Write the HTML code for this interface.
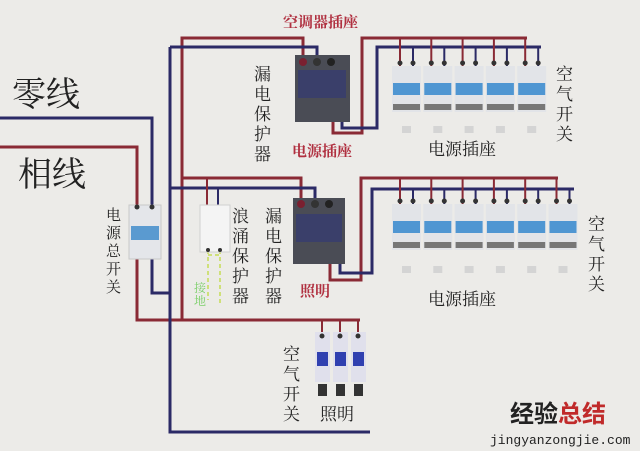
<!DOCTYPE html>
<html><head><meta charset="utf-8"><style>
html,body{margin:0;padding:0;background:#ecebe8;}
svg{display:block}
text{font-family:"Liberation Serif","Noto Serif CJK SC",serif;}
</style></head><body>
<svg id="s" width="640" height="451" viewBox="0 0 640 451" xmlns="http://www.w3.org/2000/svg">
<rect width="640" height="451" fill="#ecebe8"/>
<g fill="none" stroke-width="3" stroke-linejoin="miter">
<polyline points="0,118 152,118 152,207" stroke="#2b2a66"/>
<polyline points="0,147 137,147 137,207" stroke="#8a2a35"/>
<polyline points="137,258 137,320 360,320" stroke="#8a2a35"/>
<polyline points="152,258 152,293 170,293" stroke="#2b2a66"/>
<polyline points="170,47 170,432 370,432" stroke="#2b2a66"/>
<polyline points="182,320 182,38 303,38 303,58" stroke="#8a2a35"/>
<polyline points="170,47 317,47 317,58" stroke="#2b2a66"/>
<polyline points="182,178 301,178 301,200" stroke="#8a2a35"/>
<polyline points="170,188 315,188 315,200" stroke="#2b2a66"/>
<polyline points="207,178 207,205" stroke="#8a2a35" stroke-width="2"/>
<polyline points="218,188 218,205" stroke="#2b2a66" stroke-width="2"/>
<polyline points="333,115 333,133 362,133 362,38 527,38" stroke="#8a2a35"/>
<polyline points="342,115 342,128 377,128 377,47 541,47" stroke="#2b2a66"/>
<polyline points="330,255 330,280 361,280 361,178 558,178" stroke="#8a2a35"/>
<polyline points="340,255 340,273 372,273 372,189 574,189" stroke="#2b2a66"/>
<polyline points="322,320 322,332" stroke="#8a2a35" stroke-width="2"/>
<polyline points="340,320 340,332" stroke="#8a2a35" stroke-width="2"/>
<polyline points="358,320 358,332" stroke="#8a2a35" stroke-width="2"/>
</g>
<g stroke="#cfe07a" stroke-width="2" stroke-dasharray="4,3" fill="none">
<line x1="208" y1="250" x2="208" y2="300"/><line x1="220" y1="250" x2="220" y2="305"/>
<line x1="208" y1="255" x2="220" y2="255"/>
</g>
<rect x="129" y="205" width="32" height="54" fill="#e4e6ea" stroke="#c8c8c8"/>
<rect x="131" y="226" width="28" height="14" fill="#5a9ad0"/>
<circle cx="137" cy="207" r="2.5" fill="#333"/><circle cx="152" cy="207" r="2.5" fill="#333"/>
<rect x="200" y="205" width="30" height="47" fill="#f4f4f4" stroke="#d0d0d0"/>
<circle cx="208" cy="250" r="2" fill="#333"/><circle cx="220" cy="250" r="2" fill="#333"/>
<g>
<rect x="295" y="55" width="55" height="67" fill="#4a4c55"/>
<rect x="298" y="70" width="48" height="28" fill="#3a3f6a"/>
<circle cx="303" cy="62" r="4" fill="#7a2030"/><circle cx="317" cy="62" r="4" fill="#333"/><circle cx="331" cy="62" r="4" fill="#222"/>
<rect x="293" y="198" width="52" height="66" fill="#4a4c55"/>
<rect x="296" y="214" width="46" height="28" fill="#3a3f6a"/>
<circle cx="301" cy="204" r="4" fill="#7a2030"/><circle cx="315" cy="204" r="4" fill="#333"/><circle cx="329" cy="204" r="4" fill="#222"/>
</g>
<g id="br"></g>
<g fill="#222">
<text x="12" y="106" font-size="34">零线</text>
<text x="18" y="186" font-size="34">相线</text>
<g font-size="15"><text x="106" y="220">电</text><text x="106" y="238">源</text><text x="106" y="256">总</text><text x="106" y="274">开</text><text x="106" y="292">关</text></g>
<g font-size="17"><text x="254" y="80">漏</text><text x="254" y="100">电</text><text x="254" y="120">保</text><text x="254" y="140">护</text><text x="254" y="160">器</text></g>
<g font-size="17"><text x="265" y="222">漏</text><text x="265" y="242">电</text><text x="265" y="262">保</text><text x="265" y="282">护</text><text x="265" y="302">器</text></g>
<g font-size="17"><text x="232" y="222">浪</text><text x="232" y="242">涌</text><text x="232" y="262">保</text><text x="232" y="282">护</text><text x="232" y="302">器</text></g>
<g font-size="17"><text x="556" y="80">空</text><text x="556" y="100">气</text><text x="556" y="120">开</text><text x="556" y="140">关</text></g>
<g font-size="17"><text x="588" y="230">空</text><text x="588" y="250">气</text><text x="588" y="270">开</text><text x="588" y="290">关</text></g>
<g font-size="17"><text x="283" y="360">空</text><text x="283" y="380">气</text><text x="283" y="400">开</text><text x="283" y="420">关</text></g>
<text x="428" y="155" font-size="17">电源插座</text>
<text x="428" y="305" font-size="17">电源插座</text>
<text x="320" y="420" font-size="17">照明</text>
</g>
<g fill="#b03040" font-weight="bold">
<text x="283" y="27" font-size="15">空调器插座</text>
<text x="292" y="156" font-size="15">电源插座</text>
<text x="300" y="296" font-size="15">照明</text>
</g>
<g fill="#7ccf6a" font-size="12"><text x="194" y="292">接</text><text x="194" y="305">地</text></g>
<text x="510" y="422" font-size="24" font-weight="bold" fill="#222" style="font-family:'Liberation Sans','Noto Sans CJK SC',sans-serif">经验<tspan fill="#c02a2a">总结</tspan></text>
<text x="490" y="444" font-size="13" fill="#222" style="font-family:'Liberation Mono',monospace">jingyanzongjie.com</text>
</svg>
<script>
var g=document.getElementById('br'),h='';
function r(x,y,w,hh,f){h+='<rect x="'+x+'" y="'+y+'" width="'+w+'" height="'+hh+'" fill="'+f+'"/>';}
function c(x,y,f){h+='<circle cx="'+x+'" cy="'+y+'" r="2.5" fill="'+f+'"/>';}
function row(x0,y0,n,yr,yb,sq){for(var i=0;i<n;i++){var x=x0+i*31.3;r(x,y0,29,46,'#e2e4e8');r(x+1,y0+17,27,12,'#4f96d2');r(x+1,y0+38,27,6,'#777');
h+='<line x1="'+(x+8)+'" y1="'+yr+'" x2="'+(x+8)+'" y2="'+y0+'" stroke="#8a2a35" stroke-width="2"/>';
h+='<line x1="'+(x+21)+'" y1="'+yb+'" x2="'+(x+21)+'" y2="'+y0+'" stroke="#2b2a66" stroke-width="2"/>';
c(x+8,y0-3,'#333');c(x+21,y0-3,'#333');r(x+10,sq,9,7,'#d4d4d4');}}
row(392,66,5,38,47,126);
row(392,204,6,178,189,266);
for(var i=0;i<3;i++){var x=315+i*18;r(x,332,15,50,'#e0e0ec');r(x+2,352,11,14,'#3040b0');r(x+3,384,9,12,'#333');c(x+7,336,'#333');}
g.innerHTML=h;
</script>
</body></html>
